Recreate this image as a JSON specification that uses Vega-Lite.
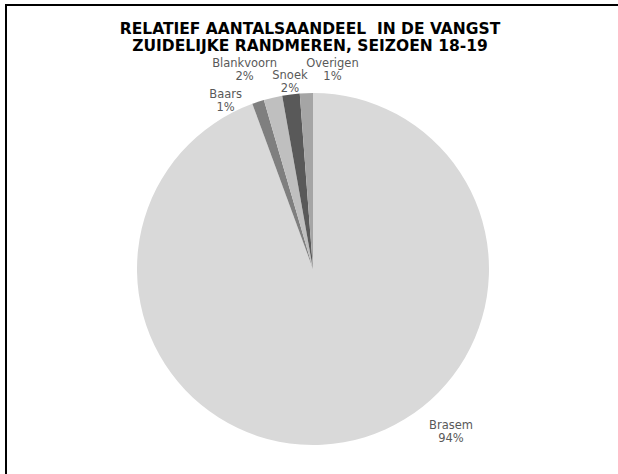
{
  "$schema": "https://vega.github.io/schema/vega-lite/v6.json",
  "width": 614,
  "height": 528,
  "autosize": {"type": "none"},
  "padding": {"left": 6, "top": 5, "right": 0, "bottom": 0},
  "background": "white",
  "view": {"stroke": "#000000", "strokeWidth": 2},
  "title": {
    "text": ["RELATIEF AANTALSAANDEEL\u00a0 IN DE VANGST", "ZUIDELIJKE RANDMEREN, SEIZOEN 18-19"],
    "anchor": "middle",
    "frame": "group",
    "offset": -49,
    "dx": -3,
    "font": "DejaVu Sans",
    "fontSize": 15.5,
    "fontWeight": "bold",
    "color": "#000000",
    "lineHeight": 16.5
  },
  "data": {
    "values": [
      {"soort": "Brasem", "aandeel": 94.4, "volgorde": 1, "label": "Brasem\n94%"},
      {"soort": "Baars", "aandeel": 1.1, "volgorde": 2, "label": "Baars\n1%"},
      {"soort": "Blankvoorn", "aandeel": 1.7, "volgorde": 3, "label": "Blankvoorn\n2%"},
      {"soort": "Snoek", "aandeel": 1.6, "volgorde": 4, "label": "Snoek\n2%"},
      {"soort": "Overigen", "aandeel": 1.2, "volgorde": 5, "label": "Overigen\n1%"}
    ]
  },
  "encoding": {
    "theta": {"field": "aandeel", "type": "quantitative", "stack": true},
    "order": {"field": "volgorde", "type": "quantitative"},
    "detail": {"field": "soort", "type": "nominal"}
  },
  "layer": [
    {
      "mark": {"type": "arc", "outerRadius": 176, "strokeWidth": 0},
      "encoding": {
        "color": {
          "field": "soort",
          "type": "nominal",
          "scale": {
            "domain": ["Brasem", "Baars", "Blankvoorn", "Snoek", "Overigen"],
            "range": ["#d9d9d9", "#7f7f7f", "#bfbfbf", "#595959", "#a5a5a5"]
          },
          "legend": null
        }
      }
    },
    {
      "mark": {"type": "text", "radius": 200, "dx": 103, "dy": -40, "font": "DejaVu Sans", "fontSize": 11.5, "color": "#595959", "lineBreak": "\n", "lineHeight": 13, "baseline": "middle", "align": "center"},
      "encoding": {"text": {"condition": {"test": "datum.soort === 'Brasem'", "field": "label", "type": "nominal"}, "value": ""}}
    },
    {
      "mark": {"type": "text", "radius": 200, "dx": -25, "dy": 16, "font": "DejaVu Sans", "fontSize": 11.5, "color": "#595959", "lineBreak": "\n", "lineHeight": 13, "baseline": "middle", "align": "center"},
      "encoding": {"text": {"condition": {"test": "datum.soort === 'Baars'", "field": "label", "type": "nominal"}, "value": ""}}
    },
    {
      "mark": {"type": "text", "radius": 200, "dx": -23, "dy": -10, "font": "DejaVu Sans", "fontSize": 11.5, "color": "#595959", "lineBreak": "\n", "lineHeight": 13, "baseline": "middle", "align": "center"},
      "encoding": {"text": {"condition": {"test": "datum.soort === 'Blankvoorn'", "field": "label", "type": "nominal"}, "value": ""}}
    },
    {
      "mark": {"type": "text", "radius": 200, "dx": 2, "dy": 5, "font": "DejaVu Sans", "fontSize": 11.5, "color": "#595959", "lineBreak": "\n", "lineHeight": 13, "baseline": "middle", "align": "center"},
      "encoding": {"text": {"condition": {"test": "datum.soort === 'Snoek'", "field": "label", "type": "nominal"}, "value": ""}}
    },
    {
      "mark": {"type": "text", "radius": 200, "dx": 27, "dy": -5, "font": "DejaVu Sans", "fontSize": 11.5, "color": "#595959", "lineBreak": "\n", "lineHeight": 13, "baseline": "middle", "align": "center"},
      "encoding": {"text": {"condition": {"test": "datum.soort === 'Overigen'", "field": "label", "type": "nominal"}, "value": ""}}
    }
  ]
}
